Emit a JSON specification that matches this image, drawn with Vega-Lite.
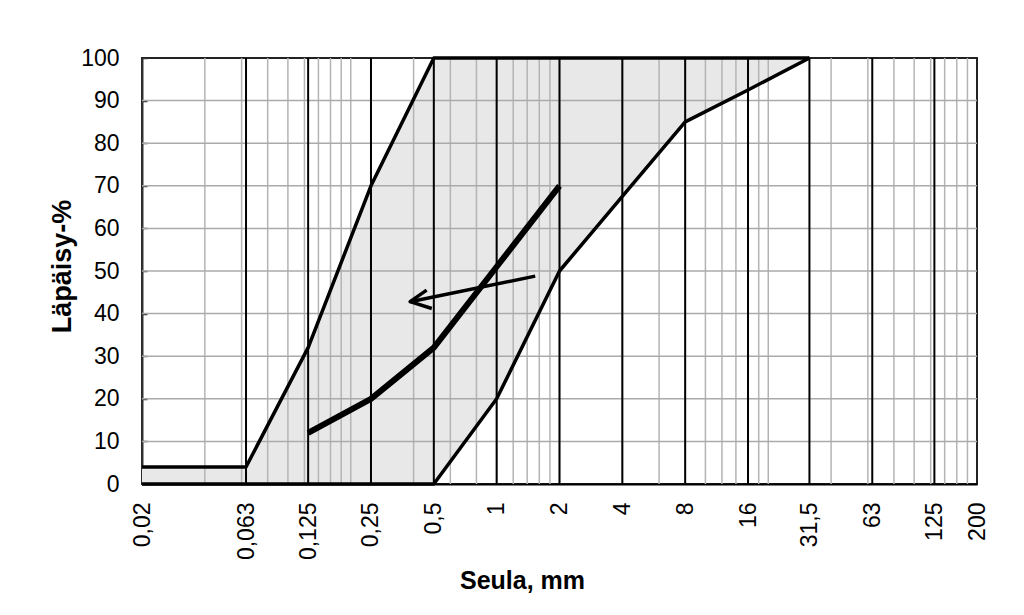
{
  "$schema": "https://vega.github.io/schema/vega-lite/v6.json",
  "width": 835,
  "height": 426,
  "autosize": {"type": "none"},
  "padding": {"left": 142, "top": 58, "right": 47, "bottom": 131},
  "background": "white",
  "config": {
    "view": {"stroke": "#222222", "strokeWidth": 2},
    "font": "Liberation Sans",
    "axis": {"grid": false, "labelColor": "#000000", "titleColor": "#000000", "labelFlush": false, "labelOverlap": false, "labelFontSize": 23, "titleFontWeight": "bold"},
    "axisX": {"ticks": false, "labelAngle": 270, "labelPadding": 18, "domainColor": "#000000", "domainWidth": 2, "titleFontSize": 25},
    "axisY": {"tickSize": -5, "tickColor": "#333333", "tickWidth": 1.5, "domainColor": "#333333", "domainWidth": 2, "labelPadding": 28, "titleFontSize": 27}
  },
  "datasets": {
    "band": [
      {"sieve": 0.02, "upper": 4, "lower": 0},
      {"sieve": 0.063, "upper": 4, "lower": 0},
      {"sieve": 0.125, "upper": 32, "lower": 0},
      {"sieve": 0.25, "upper": 70, "lower": 0},
      {"sieve": 0.5, "upper": 100, "lower": 0},
      {"sieve": 1, "upper": 100, "lower": 20},
      {"sieve": 2, "upper": 100, "lower": 50},
      {"sieve": 4, "upper": 100, "lower": 67.5},
      {"sieve": 8, "upper": 100, "lower": 85},
      {"sieve": 16, "upper": 100, "lower": 92.5},
      {"sieve": 31.5, "upper": 100, "lower": 100}
    ],
    "envelope": [
      {"sieve": 0.02, "passing": 4, "curve": "upper"},
      {"sieve": 0.063, "passing": 4, "curve": "upper"},
      {"sieve": 0.125, "passing": 32, "curve": "upper"},
      {"sieve": 0.25, "passing": 70, "curve": "upper"},
      {"sieve": 0.5, "passing": 100, "curve": "upper"},
      {"sieve": 31.5, "passing": 100, "curve": "upper"},
      {"sieve": 0.02, "passing": 0, "curve": "lower"},
      {"sieve": 0.5, "passing": 0, "curve": "lower"},
      {"sieve": 1, "passing": 20, "curve": "lower"},
      {"sieve": 2, "passing": 50, "curve": "lower"},
      {"sieve": 4, "passing": 67.5, "curve": "lower"},
      {"sieve": 8, "passing": 85, "curve": "lower"},
      {"sieve": 16, "passing": 92.5, "curve": "lower"},
      {"sieve": 31.5, "passing": 100, "curve": "lower"}
    ],
    "example": [
      {"sieve": 0.125, "passing": 12},
      {"sieve": 0.25, "passing": 20},
      {"sieve": 0.5, "passing": 32},
      {"sieve": 1, "passing": 51},
      {"sieve": 2, "passing": 70}
    ],
    "arrow": [
      {"sieve": 1.53, "passing": 48.8, "part": "shaft", "seq": 1},
      {"sieve": 0.385, "passing": 42.8, "part": "shaft", "seq": 2},
      {"sieve": 0.462, "passing": 45.5, "part": "head", "seq": 1},
      {"sieve": 0.385, "passing": 42.8, "part": "head", "seq": 2},
      {"sieve": 0.489, "passing": 41.2, "part": "head", "seq": 3}
    ],
    "minorX": [
      {"sieve": 0.04}, {"sieve": 0.06}, {"sieve": 0.08}, {"sieve": 0.1}, {"sieve": 0.12}, {"sieve": 0.14}, {"sieve": 0.16}, {"sieve": 0.18}, {"sieve": 0.2},
      {"sieve": 0.4}, {"sieve": 0.6}, {"sieve": 0.8}, {"sieve": 1}, {"sieve": 1.2}, {"sieve": 1.4}, {"sieve": 1.6}, {"sieve": 1.8}, {"sieve": 2},
      {"sieve": 4}, {"sieve": 6}, {"sieve": 8}, {"sieve": 10}, {"sieve": 12}, {"sieve": 14}, {"sieve": 16}, {"sieve": 18}, {"sieve": 20},
      {"sieve": 40}, {"sieve": 60}, {"sieve": 80}, {"sieve": 100}, {"sieve": 120}, {"sieve": 140}, {"sieve": 160}, {"sieve": 180}
    ],
    "gridY": [
      {"passing": 10}, {"passing": 20}, {"passing": 30}, {"passing": 40}, {"passing": 50}, {"passing": 60}, {"passing": 70}, {"passing": 80}, {"passing": 90}
    ],
    "sieves": [
      {"sieve": 0.063}, {"sieve": 0.125}, {"sieve": 0.25}, {"sieve": 0.5}, {"sieve": 1}, {"sieve": 2}, {"sieve": 4}, {"sieve": 8}, {"sieve": 16}, {"sieve": 31.5}, {"sieve": 63}, {"sieve": 125}
    ]
  },
  "layer": [
    {
      "data": {"name": "band"},
      "mark": {"type": "area", "color": "#e8e8e8"},
      "encoding": {
        "x": {
          "field": "sieve", "type": "quantitative",
          "scale": {"type": "log", "domain": [0.02, 200], "nice": false},
          "axis": {
            "title": "Seula, mm",
            "values": [0.02, 0.063, 0.125, 0.25, 0.5, 1, 2, 4, 8, 16, 31.5, 63, 125, 200],
            "labelExpr": "replace(toString(datum.value), '.', ',')",
            "titleX": 380,
            "titleY": 104,
            "titleBaseline": "alphabetic"
          }
        },
        "y": {
          "field": "upper", "type": "quantitative",
          "scale": {"domain": [0, 100], "nice": false},
          "axis": {
            "title": "Läpäisy-%",
            "values": [0, 5, 10, 15, 20, 25, 30, 35, 40, 45, 50, 55, 60, 65, 70, 75, 80, 85, 90, 95, 100],
            "labelExpr": "datum.value % 10 == 0 ? datum.label : ''",
            "titleAngle": 270,
            "titleX": -80,
            "titleY": 208,
            "titleBaseline": "middle"
          }
        },
        "y2": {"field": "lower"}
      }
    },
    {
      "data": {"name": "minorX"},
      "mark": {"type": "rule", "color": "#b4b4b4", "strokeWidth": 1.5},
      "encoding": {"x": {"field": "sieve", "type": "quantitative"}}
    },
    {
      "data": {"name": "gridY"},
      "mark": {"type": "rule", "color": "#aaaaaa", "strokeWidth": 1.5},
      "encoding": {"y": {"field": "passing", "type": "quantitative"}}
    },
    {
      "data": {"name": "sieves"},
      "mark": {"type": "rule", "color": "#000000", "strokeWidth": 2},
      "encoding": {"x": {"field": "sieve", "type": "quantitative"}}
    },
    {
      "data": {"name": "envelope"},
      "mark": {"type": "line", "color": "#000000", "strokeWidth": 3.5, "strokeJoin": "round"},
      "encoding": {
        "x": {"field": "sieve", "type": "quantitative"},
        "y": {"field": "passing", "type": "quantitative"},
        "detail": {"field": "curve"}
      }
    },
    {
      "data": {"name": "example"},
      "mark": {"type": "line", "color": "#000000", "strokeWidth": 6, "strokeJoin": "round"},
      "encoding": {
        "x": {"field": "sieve", "type": "quantitative"},
        "y": {"field": "passing", "type": "quantitative"}
      }
    },
    {
      "data": {"name": "arrow"},
      "mark": {"type": "line", "color": "#000000", "strokeWidth": 3.5, "strokeJoin": "round"},
      "encoding": {
        "x": {"field": "sieve", "type": "quantitative"},
        "y": {"field": "passing", "type": "quantitative"},
        "detail": {"field": "part"},
        "order": {"field": "seq"}
      }
    }
  ]
}
